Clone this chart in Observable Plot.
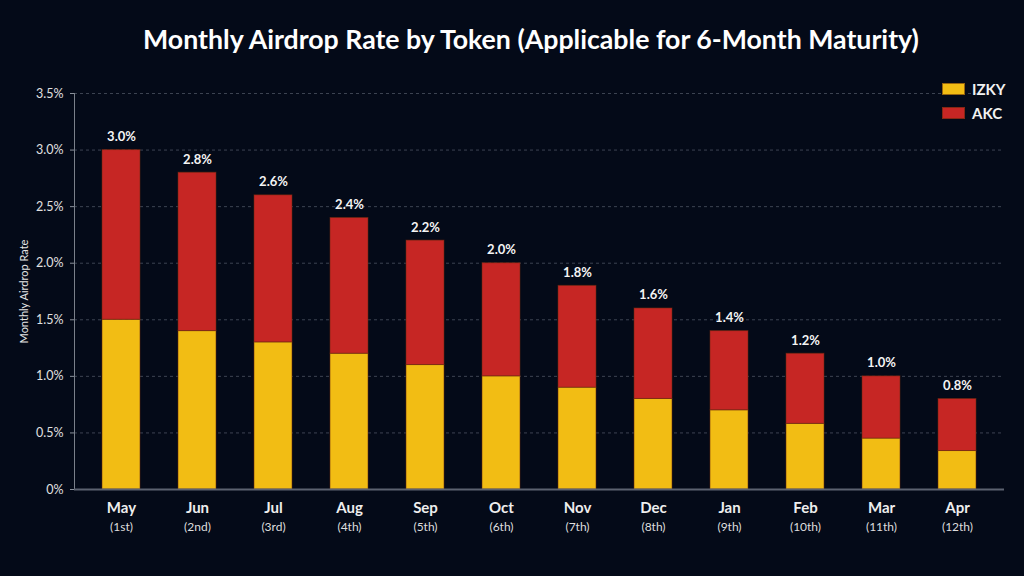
<!DOCTYPE html>
<html>
<head>
<meta charset="utf-8">
<script src="https://cdn.jsdelivr.net/npm/d3@7"></script>
<script src="https://cdn.jsdelivr.net/npm/@observablehq/plot@0.6"></script>
<style>
  html, body { margin: 0; padding: 0; background: #040a18; }
  #wrap { position: relative; width: 1024px; height: 576px; background: #040a18; overflow: hidden; font-family: Lato, "Open Sans", sans-serif; }
  #title { height: 70px; line-height: 78px; padding-left: 38px; box-sizing: border-box; text-align: center; color: #ffffff; font-weight: 700; font-size: 26.7px; }
  #chart svg { display: block; }
  .legend { position: absolute; left: 942px; top: 77px; color: #f2f2f2; font-size: 15px; font-weight: 700; }
  .legend .item { display: flex; align-items: center; height: 24px; }
  .legend .sw { width: 23px; height: 12px; margin-right: 7px; box-sizing: border-box; border: 1px solid rgba(90,40,10,0.6); }
</style>
</head>
<body>
<div id="wrap">
  <div id="title">Monthly Airdrop Rate by Token (Applicable for 6-Month Maturity)</div>
  <div id="chart"></div>
  <div class="legend" id="legend"></div>
</div>
<script>
// Monthly airdrop rates (percent) for each token
const months = ["May", "Jun", "Jul", "Aug", "Sep", "Oct", "Nov", "Dec", "Jan", "Feb", "Mar", "Apr"];
const ordinals = ["(1st)", "(2nd)", "(3rd)", "(4th)", "(5th)", "(6th)", "(7th)", "(8th)", "(9th)", "(10th)", "(11th)", "(12th)"];
const izky = [1.5, 1.4, 1.3, 1.2, 1.1, 1.0, 0.9, 0.8, 0.7, 0.58, 0.45, 0.34];
const akc = [1.5, 1.4, 1.3, 1.2, 1.1, 1.0, 0.9, 0.8, 0.7, 0.62, 0.55, 0.46];
const tokens = ["IZKY", "AKC"];
const tokenColors = ["#f2bd14", "#c62624"];
const yTicks = [0, 0.5, 1.0, 1.5, 2.0, 2.5, 3.0, 3.5];

const rows = [];
months.forEach((m, i) => {
  rows.push({month: m, token: "IZKY", value: izky[i]});
  rows.push({month: m, token: "AKC", value: akc[i]});
});
const totals = months.map((m, i) => ({month: m, ordinal: ordinals[i], total: +(izky[i] + akc[i]).toFixed(2)}));

const pct = d => d === 0 ? "0%" : d.toFixed(1) + "%";

const chart = Plot.plot({
  width: 1024,
  height: 506,
  marginTop: 23,
  marginBottom: 87,
  marginLeft: 74,
  marginRight: 20,
  style: {background: "transparent", color: "#dcdcdc", fontFamily: "Lato, 'Open Sans', sans-serif", fontSize: "12px"},
  x: {domain: months, paddingInner: 0.5, paddingOuter: 0.35, axis: null},
  y: {domain: [0, 3.5], ticks: yTicks},
  color: {domain: tokens, range: tokenColors},
  marks: [
    Plot.gridY(yTicks, {stroke: "#6b7382", strokeOpacity: 0.55, strokeDasharray: "3,3"}),
    Plot.axisY(yTicks, {
      tickFormat: pct, tickSize: 4, tickPadding: 7, stroke: "#8a909a", fill: "#e0e0e0", fontSize: 12.5,
      label: null
    }),
    Plot.axisY({
      ticks: [], tickSize: 0, label: "Monthly Airdrop Rate", labelAnchor: "center", labelArrow: "none",
      labelOffset: 54, fill: "#e6e6e6", fontSize: 11
    }),
    Plot.frame({anchor: "left", stroke: "#7a808a"}),
    Plot.barY(rows, Plot.stackY({x: "month", y: "value", fill: "token", stroke: "#6a2a0e", strokeOpacity: 0.55, strokeWidth: 1, order: tokens})),
    Plot.ruleY([0], {stroke: "#5c6270", strokeWidth: 2}),
    Plot.text(totals, {x: "month", y: "total", text: d => pct(d.total), lineAnchor: "bottom", dy: -9, fill: "#f4f4f4", fontSize: 13, fontWeight: 700}),
    Plot.text(totals, {x: "month", y: 0, text: "month", dy: 19, fill: "#eeeeee", fontSize: 15, fontWeight: 700}),
    Plot.text(totals, {x: "month", y: 0, text: "ordinal", dy: 38, fill: "#dedede", fontSize: 12})
  ]
});
document.getElementById("chart").appendChild(chart);

// Legend for the two tokens
const legend = document.getElementById("legend");
tokens.forEach((t, i) => {
  const item = document.createElement("div");
  item.className = "item";
  const sw = document.createElement("span");
  sw.className = "sw";
  sw.style.background = tokenColors[i];
  const lab = document.createElement("span");
  lab.textContent = t;
  item.appendChild(sw);
  item.appendChild(lab);
  legend.appendChild(item);
});
</script>
</body>
</html>
